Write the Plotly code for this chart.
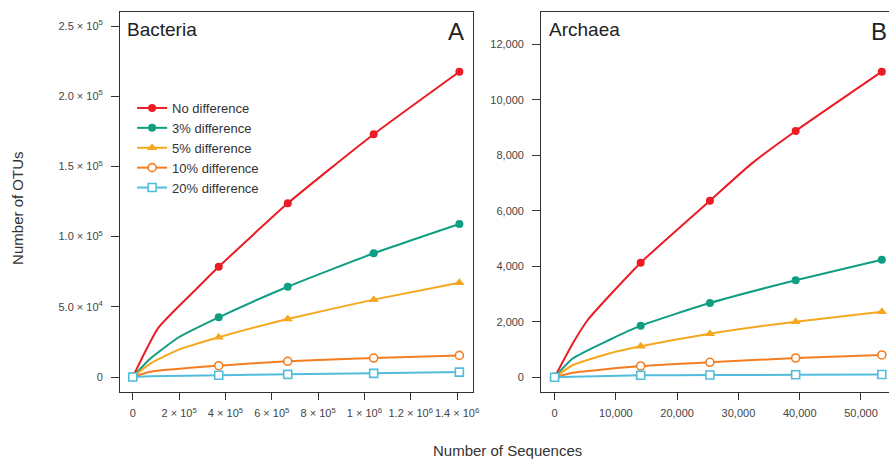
import plotly.graph_objects as go

W, H = 895, 459

series_names = ["No difference", "3% difference", "5% difference", "10% difference", "20% difference"]
colors = ["#ec1c24", "#0f9e82", "#f5a81e", "#f47d20", "#52bddb"]
symbols = ["circle", "circle", "triangle-up", "circle", "square"]
open_marker = [False, False, False, True, True]

# ---- Bacteria (panel A) ----
bac_marker_x = [0, 371000, 669000, 1040000, 1410000]
bac_marker_y = [
    [0, 78500, 123700, 172900, 217400],
    [0, 42500, 64300, 88100, 109000],
    [0, 28300, 41300, 55100, 67200],
    [0, 8050, 11200, 13500, 15400],
    [0, 1200, 1900, 2600, 3500],
]
bac_curve_x = [
    [0, 110000, 284000, 371000, 669000, 1040000, 1410000],
    [0, 77000, 198700, 371000, 669000, 1040000, 1410000],
    [0, 77000, 198700, 371000, 669000, 1040000, 1410000],
    [0, 77000, 371000, 669000, 1040000, 1410000],
    [0, 77000, 371000, 669000, 1040000, 1410000],
]
bac_curve_y = [
    [0, 35000, 64300, 78500, 123700, 172900, 217400],
    [0, 13300, 28300, 42500, 64300, 88100, 109000],
    [0, 9750, 19500, 28300, 41300, 55100, 67200],
    [0, 3800, 8050, 11200, 13500, 15400],
    [0, 500, 1200, 1900, 2600, 3500],
]

# ---- Archaea (panel B) ----
arc_marker_x = [0, 14050, 25350, 39340, 53400]
arc_marker_y = [
    [0, 4130, 6365, 8876, 11013],
    [0, 1860, 2677, 3495, 4238],
    [0, 1117, 1571, 2004, 2364],
    [0, 407, 540, 695, 804],
    [0, 72, 80, 90, 100],
]
arc_curve_x = [
    [0, 2980, 5410, 14050, 25350, 32150, 39340, 53400],
    [0, 3000, 8900, 14050, 25350, 39340, 53400],
    [0, 3000, 8900, 14050, 25350, 39340, 53400],
    [0, 3000, 14050, 25350, 39340, 53400],
    [0, 3000, 14050, 25350, 39340, 53400],
]
arc_curve_y = [
    [0, 1225, 2065, 4130, 6365, 7700, 8876, 11013],
    [0, 685, 1344, 1860, 2677, 3495, 4238],
    [0, 443, 860, 1117, 1571, 2004, 2364],
    [0, 166, 407, 540, 695, 804],
    [0, 20, 72, 80, 90, 100],
]

bac_ytickvals = [0, 50000, 100000, 150000, 200000, 250000]
bac_yticktext = ["0", "5.0 × 10<sup>4</sup>", "1.0 × 10<sup>5</sup>", "1.5 × 10<sup>5</sup>",
                 "2.0 × 10<sup>5</sup>", "2.5 × 10<sup>5</sup>"]
bac_xtickvals = [0, 200000, 400000, 600000, 800000, 1000000, 1200000, 1400000]
bac_xticktext = ["0", "2 × 10<sup>5</sup>", "4 × 10<sup>5</sup>", "6 × 10<sup>5</sup>", "8 × 10<sup>5</sup>",
                 "1 × 10<sup>6</sup>", "1.2 × 10<sup>6</sup>", "1.4 × 10<sup>6</sup>"]
arc_ytickvals = [0, 2000, 4000, 6000, 8000, 10000, 12000]
arc_yticktext = ["0", "2,000", "4,000", "6,000", "8,000", "10,000", "12,000"]
arc_xtickvals = [0, 10000, 20000, 30000, 40000, 50000]
arc_xticktext = ["0", "10,000", "20,000", "30,000", "40,000", "50,000"]

fig = go.Figure()


def marker_style(i):
    if open_marker[i]:
        return dict(symbol=symbols[i], size=8, color="white", line=dict(color=colors[i], width=1.6))
    return dict(symbol=symbols[i], size=8 if symbols[i] != "triangle-up" else 9, color=colors[i],
                line=dict(width=0))


for panel, (cx, cy, mx, my, xa, ya) in enumerate([
    (bac_curve_x, bac_curve_y, bac_marker_x, bac_marker_y, "x", "y"),
    (arc_curve_x, arc_curve_y, arc_marker_x, arc_marker_y, "x2", "y2"),
]):
    for i in range(len(series_names)):
        fig.add_trace(go.Scatter(x=cx[i], y=cy[i], mode="lines",
                                 line=dict(color=colors[i], width=2, shape="spline", smoothing=0.5),
                                 xaxis=xa, yaxis=ya, showlegend=False, hoverinfo="skip"))
    for i in range(len(series_names)):
        fig.add_trace(go.Scatter(x=mx, y=my[i], mode="markers", marker=marker_style(i),
                                 xaxis=xa, yaxis=ya, showlegend=False, name=series_names[i]))

# legend entries
for i in range(len(series_names)):
    fig.add_trace(go.Scatter(x=[None], y=[None], mode="lines+markers", name=series_names[i],
                             line=dict(color=colors[i], width=2), marker=marker_style(i),
                             xaxis="x", yaxis="y", showlegend=True))


def px(v):
    return v / W


def py(v):
    return 1 - v / H


ytickfont = dict(family="Liberation Sans, Arial, sans-serif", size=11, color="#444")
bxtickfont = dict(family="Liberation Sans, Arial, sans-serif", size=11, color="#444")
axtickfont = dict(family="Liberation Sans, Arial, sans-serif", size=11, color="#444")
axis_common = dict(showgrid=False, zeroline=False, showline=True, linecolor="#333", linewidth=1.3,
                   ticks="outside", tickcolor="#333", tickwidth=1.2)

fig.update_layout(
    width=W, height=H,
    margin=dict(l=0, r=0, t=0, b=0),
    paper_bgcolor="white", plot_bgcolor="white",
    font=dict(family="Liberation Sans, Arial, sans-serif", color="#333"),
    xaxis=dict(domain=[px(121), px(476)], range=[-54400, 1468000], tickvals=bac_xtickvals,
               ticktext=bac_xticktext, mirror=True, anchor="y", ticklen=7, ticklabelstandoff=4,
               tickangle=0, tickfont=bxtickfont, **axis_common),
    yaxis=dict(domain=[py(392), py(12)], range=[-10680, 259970], tickvals=bac_ytickvals,
               ticktext=bac_yticktext, mirror=True, anchor="x", ticklen=8, ticklabelstandoff=6,
               tickfont=ytickfont, **axis_common),
    xaxis2=dict(domain=[px(545), 1.0], range=[-2160, 54570], tickvals=arc_xtickvals,
                ticktext=arc_xticktext, mirror=True, anchor="y2", ticklen=7, ticklabelstandoff=4,
                tickangle=0, tickfont=axtickfont, **axis_common),
    yaxis2=dict(domain=[py(392), py(12)], range=[-530, 13164], tickvals=arc_ytickvals,
                ticktext=arc_yticktext, mirror=False, anchor="x2", ticklen=8, ticklabelstandoff=6,
                tickfont=ytickfont, **axis_common),
    legend=dict(x=px(133), y=py(93), xanchor="left", yanchor="top", bgcolor="rgba(0,0,0,0)",
                font=dict(size=13, color="#333"), tracegroupgap=0, itemwidth=30),
    annotations=[
        dict(text="Bacteria", x=px(126), y=py(30), xref="paper", yref="paper", xanchor="left",
             yanchor="middle", showarrow=False, font=dict(size=19, color="#222")),
        dict(text="A", x=px(469), y=py(31), xref="paper", yref="paper", xanchor="right",
             yanchor="middle", showarrow=False, font=dict(size=24, color="#222")),
        dict(text="Archaea", x=px(551), y=py(30), xref="paper", yref="paper", xanchor="left",
             yanchor="middle", showarrow=False, font=dict(size=19, color="#222")),
        dict(text="B", x=px(875), y=py(31), xref="paper", yref="paper", xanchor="left",
             yanchor="middle", showarrow=False, font=dict(size=24, color="#222")),
        dict(text="Number of OTUs", x=px(17), y=py(208), xref="paper", yref="paper", textangle=-90,
             xanchor="center", yanchor="middle", showarrow=False, font=dict(size=15, color="#333")),
        dict(text="Number of Sequences", x=px(511), y=py(450), xref="paper", yref="paper",
             xanchor="center", yanchor="middle", showarrow=False, font=dict(size=15, color="#333")),
    ],
)

# remove the browser's default 8px body margin so the 895x459 figure fills the window exactly
fig.write_html("out.html", config={"displayModeBar": False},
               post_script="document.body.style.margin='0';document.body.style.overflow='hidden';")
